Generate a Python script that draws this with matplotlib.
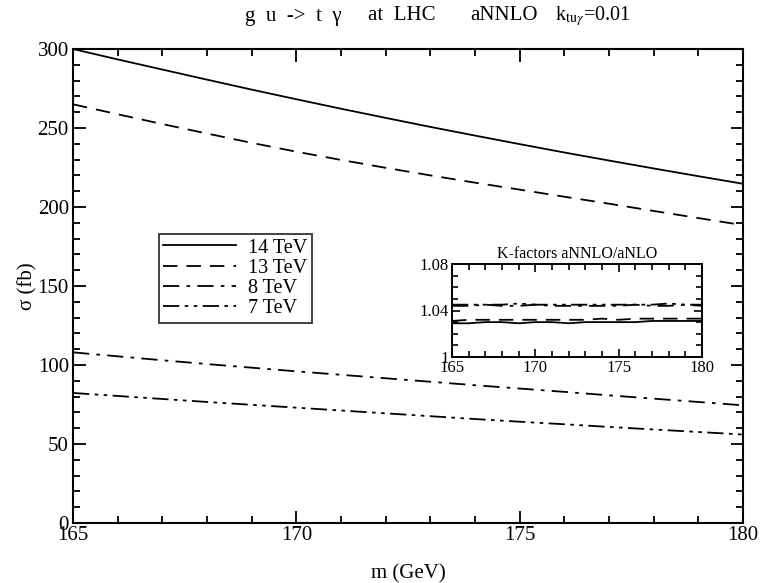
import numpy as np
import matplotlib
matplotlib.use("Agg")
import matplotlib.pyplot as plt
from matplotlib.ticker import MultipleLocator

plt.rcParams['font.family'] = ['Liberation Serif', 'DejaVu Serif']
plt.rcParams['mathtext.fontset'] = 'stix'

# top-quark mass (GeV)
mass = [165, 166, 167, 168, 169, 170, 171, 172, 173, 174, 175, 176, 177, 178, 179, 180]

# aNNLO cross sections (fb)
sigma_14 = [300.0, 293.4, 287.0, 280.6, 274.3, 268.2, 262.2, 256.4, 250.7, 245.2,
            239.8, 234.5, 229.4, 224.4, 219.5, 214.7]
sigma_13 = [265.0, 258.7, 252.5, 246.5, 240.6, 235.0, 229.8, 224.8, 220.0, 215.4,
            211.0, 206.5, 202.1, 197.5, 193.0, 188.5]
sigma_8 = [108.0, 105.5, 103.0, 100.6, 98.3, 96.0, 93.8, 91.6, 89.4, 87.2,
           85.1, 83.0, 80.8, 78.7, 76.6, 74.5]
sigma_7 = [82.3, 80.4, 78.5, 76.6, 74.8, 73.0, 71.2, 69.4, 67.6, 65.8,
           64.1, 62.5, 60.8, 59.2, 57.6, 56.0]

# K-factors aNNLO/aNLO
k_14 = [1.029, 1.029, 1.030, 1.030, 1.029, 1.030, 1.030, 1.029, 1.030, 1.030,
        1.030, 1.030, 1.031, 1.031, 1.031, 1.031]
k_13 = [1.031, 1.032, 1.032, 1.032, 1.032, 1.032, 1.032, 1.032, 1.032, 1.033,
        1.032, 1.033, 1.033, 1.033, 1.033, 1.033]
k_8 = [1.044, 1.044, 1.045, 1.044, 1.044, 1.045, 1.044, 1.044, 1.044, 1.044,
       1.044, 1.045, 1.044, 1.044, 1.045, 1.044]
k_7 = [1.045, 1.045, 1.045, 1.045, 1.046, 1.045, 1.045, 1.045, 1.045, 1.045,
       1.045, 1.045, 1.045, 1.046, 1.045, 1.045]

labels = ['14 TeV', '13 TeV', '8 TeV', '7 TeV']
styles = ['-', (0, (8, 5)), (0, (9, 4, 2, 4)), (0, (9, 3, 2, 3, 2, 3))]

W, H = 770, 583
fig = plt.figure(figsize=(W / 100, H / 100), dpi=100)
ax = fig.add_axes([73 / W, 1 - 523 / H, 670 / W, 474 / H])

for y, lab, ls in zip([sigma_14, sigma_13, sigma_8, sigma_7], labels, styles):
    ax.plot(mass, y, color='black', lw=1.3, ls=ls, label=lab)

ax.set_xlim(165, 180)
ax.set_ylim(0, 300)
ax.xaxis.set_major_locator(MultipleLocator(5))
ax.xaxis.set_minor_locator(MultipleLocator(1))
ax.yaxis.set_major_locator(MultipleLocator(50))
ax.yaxis.set_minor_locator(MultipleLocator(10))
ax.tick_params(which='both', direction='in', top=True, right=True, labelsize=15, width=1.3)
ax.tick_params(which='major', length=9)
ax.tick_params(which='minor', length=5)
ax.tick_params(axis='x', pad=2)
ax.tick_params(axis='y', pad=3)
for s in ax.spines.values():
    s.set_linewidth(1.5)
ax.set_xlabel('m (GeV)', fontsize=15)
ax.xaxis.set_label_coords(0.5, -(564 - 523) / 474, transform=ax.transAxes)
ax.set_ylabel('σ (fb)', fontsize=15)
ax.yaxis.set_label_coords(-(73 - 37) / 670, 0.5, transform=ax.transAxes)

# title pieces
title_parts = [(245, 'g  u  ->  t  γ', 15), (368, 'at  LHC', 15), (470, 'aNNLO', 15),
               (555, 'k$_{\\mathrm{tu}\\gamma}$=0.01', 14.5)]
for x, s, fs in title_parts:
    fig.text(x / W, 1 - 16 / H, s, fontsize=fs, ha='left', va='center')

leg = ax.legend(loc='upper left', bbox_to_anchor=((159 - 73) / 670, (523 - 234) / 474),
                fontsize=14.5, frameon=True, fancybox=False, edgecolor='black',
                handlelength=3.6, handletextpad=0.6, borderpad=0.22, labelspacing=0.06,
                borderaxespad=0)
leg.get_frame().set_linewidth(1.3)

# inset with the K-factors
ins = fig.add_axes([452 / W, 1 - 357 / H, 250 / W, 93 / H])
for y, ls in zip([k_14, k_13, k_8, k_7], styles):
    ins.plot(mass, y, color='black', lw=1.3, ls=ls)
ins.set_xlim(165, 180)
ins.set_ylim(1.0, 1.08)
ins.xaxis.set_major_locator(MultipleLocator(5))
ins.xaxis.set_minor_locator(MultipleLocator(1))
ins.yaxis.set_minor_locator(MultipleLocator(0.01))
ins.set_yticks([1.0, 1.04, 1.08])
ins.set_yticklabels(['1', '1.04', '1.08'])
ins.tick_params(which='both', direction='in', top=True, right=True, labelsize=12, width=1.2, pad=2)
ins.tick_params(which='major', length=6)
ins.tick_params(which='minor', length=4)
for s in ins.spines.values():
    s.set_linewidth(1.4)
ins.set_title('K-factors aNNLO/aNLO', fontsize=11.5, pad=4)

fig.savefig('out.png', dpi=100)
